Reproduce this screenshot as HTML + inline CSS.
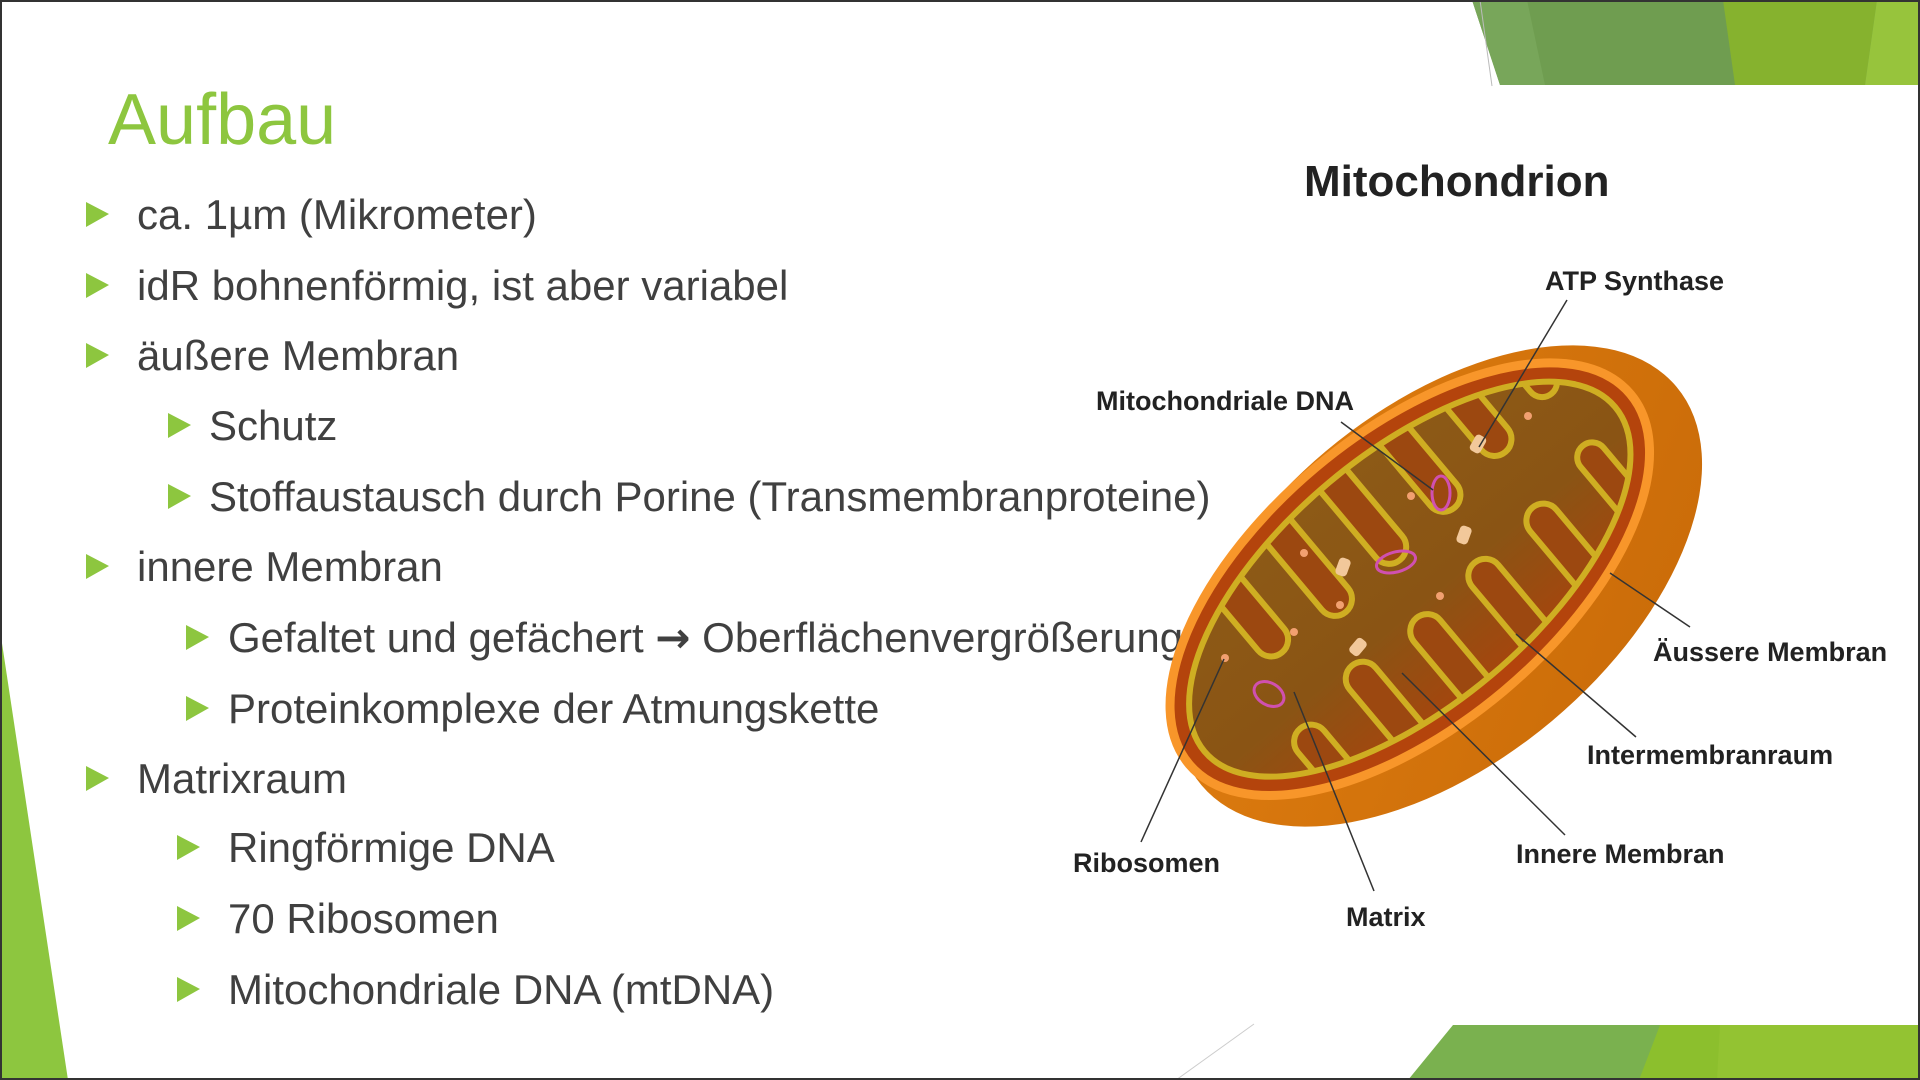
<!DOCTYPE html>
<html><head><meta charset="utf-8"><style>
html,body{margin:0;padding:0;background:#fff}
svg{display:block}
</style></head><body>
<svg width="1920" height="1080" viewBox="0 0 1920 1080" xmlns="http://www.w3.org/2000/svg">
<defs>
<clipPath id="mclip"><ellipse cx="-18" cy="-24" rx="268" ry="126"/></clipPath>
<linearGradient id="body" x1="0" y1="0" x2="1" y2="1">
<stop offset="0" stop-color="#e07e10"/><stop offset="1" stop-color="#c86a08"/></linearGradient>
<linearGradient id="mat" x1="0" y1="0" x2="0" y2="1">
<stop offset="0" stop-color="#8d5a16"/><stop offset="0.6" stop-color="#8a5414"/><stop offset="1" stop-color="#a4460e"/></linearGradient>
</defs>
<rect width="1920" height="1080" fill="#fff"/>
<!-- top band -->
<polygon points="1472,0 1920,0 1920,85 1500,85" fill="#6f9d50"/>
<polygon points="1472,0 1527,0 1545,85 1500,85" fill="#78a65a"/>
<polygon points="1723,0 1877,0 1865,85 1735,85" fill="#86b22e"/>
<polygon points="1877,0 1920,0 1920,85 1865,85" fill="#97c43c"/>
<line x1="1480" y1="0" x2="1492" y2="86" stroke="#bbb" stroke-width="1"/>
<!-- bottom band -->
<polygon points="1453,1025 1920,1025 1920,1080 1408,1080" fill="#7ab14f"/>
<polygon points="1660,1025 1920,1025 1920,1080 1639,1080" fill="#8cbf2d"/>
<polygon points="1720,1025 1920,1025 1920,1080 1717,1080" fill="#93c332"/>
<line x1="1254" y1="1024" x2="1176" y2="1080" stroke="#ccc" stroke-width="1"/>
<!-- left strip -->
<polygon points="0,630 68,1080 0,1080" fill="#8dc63f"/>
<!-- title -->
<text x="108" y="144" font-family="Liberation Sans, sans-serif" font-size="72" fill="#8dc63f">Aufbau</text>
<!-- bullets -->
<g font-family="Liberation Sans, sans-serif" font-size="42" fill="#404040">
<g fill="#8dc63f">
<polygon points="86,202 86,227 109,214"/>
<polygon points="86,273 86,298 109,285"/>
<polygon points="86,343 86,368 109,355"/>
<polygon points="168,413 168,438 191,425"/>
<polygon points="168,484 168,509 191,496"/>
<polygon points="86,554 86,579 109,566"/>
<polygon points="186,625 186,650 209,637"/>
<polygon points="186,696 186,721 209,708"/>
<polygon points="86,766 86,791 109,778"/>
<polygon points="177,835 177,860 200,847"/>
<polygon points="177,906 177,931 200,918"/>
<polygon points="177,977 177,1002 200,989"/>
</g>
<text x="137" y="229">ca. 1µm (Mikrometer)</text>
<text x="137" y="300">idR bohnenförmig, ist aber variabel</text>
<text x="137" y="370">äußere Membran</text>
<text x="209" y="440">Schutz</text>
<text x="209" y="511">Stoffaustausch durch Porine (Transmembranproteine)</text>
<text x="137" y="581">innere Membran</text>
<text x="228" y="652">Gefaltet und gefächert <tspan font-family="DejaVu Sans, sans-serif" font-weight="bold">→</tspan> Oberflächenvergrößerung</text>
<text x="228" y="723">Proteinkomplexe der Atmungskette</text>
<text x="137" y="793">Matrixraum</text>
<text x="228" y="862">Ringförmige DNA</text>
<text x="228" y="933">70 Ribosomen</text>
<text x="228" y="1004">Mitochondriale DNA (mtDNA)</text>
</g>
<!-- mitochondrion -->
<g transform="translate(1439,586) rotate(-40)">
<ellipse cx="0" cy="0" rx="310" ry="176" fill="url(#body)"/>
<ellipse cx="-18" cy="-24" rx="288" ry="146" fill="#b4440c" stroke="#f8962a" stroke-width="9"/>
<ellipse cx="-18" cy="-24" rx="268" ry="126" fill="url(#mat)"/>
<g clip-path="url(#mclip)" stroke="#cfae22" stroke-width="6" fill="#9c4810">
<rect x="-215" y="20" width="34" height="140" rx="17"/>
<rect x="-135" y="5" width="34" height="150" rx="17"/>
<rect x="-55" y="10" width="34" height="150" rx="17"/>
<rect x="25" y="5" width="34" height="150" rx="17"/>
<rect x="105" y="0" width="34" height="150" rx="17"/>
<rect x="185" y="-15" width="30" height="150" rx="15"/>
<rect x="-180" y="-210" width="34" height="160" rx="17"/>
<rect x="-105" y="-210" width="34" height="170" rx="17"/>
<rect x="-30" y="-210" width="34" height="165" rx="17"/>
<rect x="45" y="-210" width="34" height="160" rx="17"/>
<rect x="120" y="-210" width="34" height="150" rx="17"/>
<rect x="195" y="-210" width="30" height="135" rx="15"/>
</g>
<ellipse cx="-18" cy="-24" rx="268" ry="126" fill="none" stroke="#cfae22" stroke-width="6"/>
</g>
<!-- DNA rings -->
<g fill="none" stroke="#d050b0" stroke-width="3">
<ellipse cx="1441" cy="493" rx="9" ry="17"/>
<ellipse cx="1396" cy="562" rx="20" ry="10" transform="rotate(-15 1396 562)"/>
<ellipse cx="1269" cy="694" rx="16" ry="11" transform="rotate(30 1269 694)"/>
</g>
<g fill="#f2c89a">
<rect x="1472" y="435" width="12" height="18" rx="4" transform="rotate(30 1478 444)"/>
<rect x="1458" y="526" width="12" height="18" rx="4" transform="rotate(20 1464 535)"/>
<rect x="1337" y="558" width="12" height="18" rx="4" transform="rotate(20 1343 567)"/>
<rect x="1352" y="638" width="12" height="18" rx="4" transform="rotate(40 1358 647)"/>
</g>
<g fill="#f2a070">
<circle cx="1528" cy="416" r="4"/><circle cx="1411" cy="496" r="4"/><circle cx="1304" cy="553" r="4"/>
<circle cx="1340" cy="605" r="4"/><circle cx="1440" cy="596" r="4"/><circle cx="1294" cy="632" r="4"/>
<circle cx="1225" cy="658" r="4"/>
</g>
<!-- leader lines -->
<g stroke="#333" stroke-width="1.5">
<line x1="1567" y1="300" x2="1479" y2="447"/>
<line x1="1341" y1="422" x2="1433" y2="490"/>
<line x1="1690" y1="627" x2="1610" y2="573"/>
<line x1="1636" y1="737" x2="1516" y2="634"/>
<line x1="1565" y1="835" x2="1402" y2="673"/>
<line x1="1141" y1="842" x2="1224" y2="659"/>
<line x1="1374" y1="891" x2="1294" y2="692"/>
</g>
<g font-family="Liberation Sans, sans-serif" font-weight="bold" fill="#222">
<text x="1304" y="196" font-size="44">Mitochondrion</text>
<g font-size="27">
<text x="1545" y="290">ATP Synthase</text>
<text x="1096" y="410">Mitochondriale DNA</text>
<text x="1653" y="661">Äussere Membran</text>
<text x="1587" y="764">Intermembranraum</text>
<text x="1516" y="863">Innere Membran</text>
<text x="1073" y="872">Ribosomen</text>
<text x="1346" y="926">Matrix</text>
</g>
</g>
<rect x="1" y="1" width="1918" height="1078" fill="none" stroke="#333" stroke-width="2"/>
</svg>
</body></html>
